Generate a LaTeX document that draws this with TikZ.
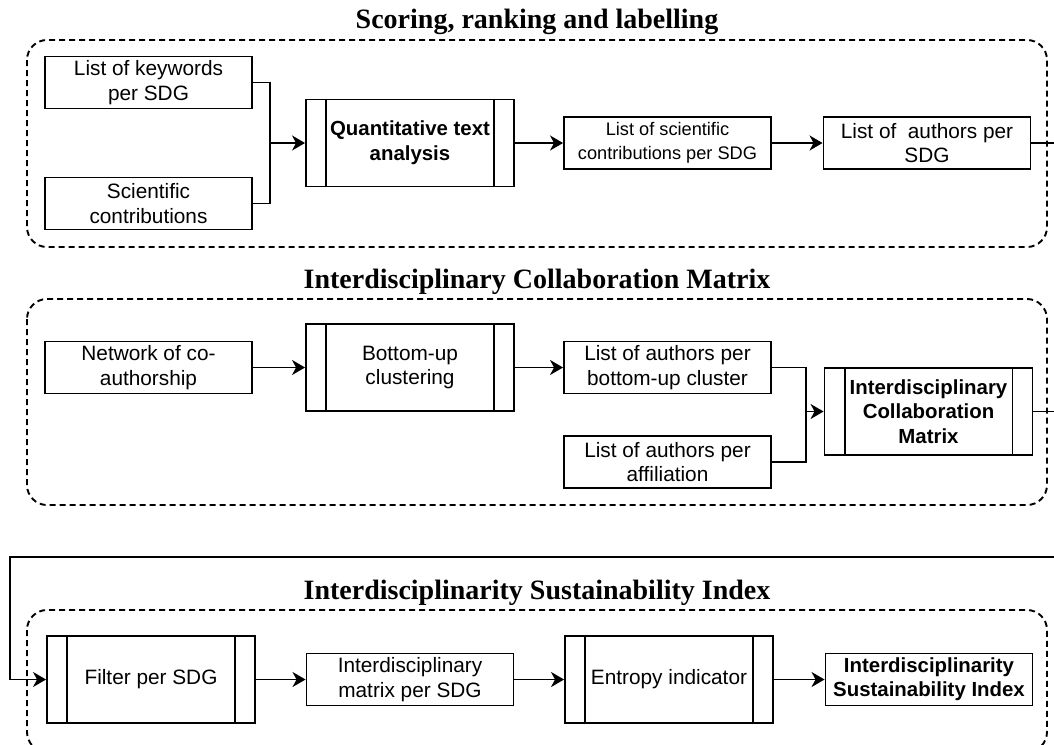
\documentclass[tikz,border=0pt]{standalone}
\usepackage{fontspec}
\setmainfont{Liberation Sans}
\newfontfamily\titlefont{Liberation Serif}
\usepackage{tikz}
\usetikzlibrary{arrows.meta, positioning}

\begin{document}
\begin{tikzpicture}[x=0.5pt, y=-0.5pt, >={Stealth[length=6.5pt,width=7.5pt,inset=2pt]}, line width=0.95pt]
        \tikzstyle{box}=[draw, rectangle, inner sep=0pt, align=center, minimum width=103.5pt, minimum height=26pt, font=\fontsize{10.4}{12.3}\selectfont]
        \tikzstyle{process}=[box, minimum width=104pt, minimum height=43.5pt]
        \tikzstyle{heading}=[font=\titlefont\bfseries\fontsize{14}{16}\selectfont]
        \tikzstyle{frame}=[dash pattern=on 3pt off 2pt, rounded corners=10pt]

        \useasboundingbox (0,0) rectangle (1054,744);

        % --- Scoring, ranking and labelling ---
        \node (title1)[heading] at (537,22) {Scoring, ranking and labelling};
        \draw[frame] (27,40) rectangle (1047,247);

        \node (kwlist)[box] at (148.5,82.5) {List of keywords\\per SDG};
        \node (scicontrib)[box] at (148.5,203.5) {Scientific\\contributions};
        \node (quanttext)[process, font=\bfseries\fontsize{10.2}{12.3}\selectfont] at (410,143) {Quantitative text\\analysis};
        \node (scilist)[box, font=\fontsize{9.1}{11.8}\selectfont] at (667.5,143) {List of scientific\\contributions per SDG};
        \node (authsdg)[box] at (927,143) {List of~ authors per\\SDG};

        \coordinate (joinA) at (270,143);
        \coordinate (outA) at (1060,143);
        \draw (kwlist.east) -| (joinA);
        \draw (scicontrib.east) -| (joinA);
        \draw[->] (joinA) -- (quanttext.west);
        \draw[->] (quanttext) -- (scilist);
        \draw[->] (scilist) -- (authsdg);
        \draw (authsdg.east) -- (outA);

        % --- Interdisciplinary Collaboration Matrix ---
        \node (title2)[heading] at (537,282) {Interdisciplinary Collaboration Matrix};
        \draw[frame] (27,299) rectangle (1047,505);

        \node (network)[box] at (148.5,367.5) {Network of co-\\authorship};
        \node (clustering)[process] at (410,367.5) {Bottom-up\\clustering};
        \node (authcluster)[box] at (667.5,367.5) {List of authors per\\bottom-up cluster};
        \node (authaffil)[box] at (667.5,462) {List of authors per\\affiliation};
        \node (icm)[process, font=\bfseries\fontsize{10.2}{12.2}\selectfont] at (928.5,411.5) {Interdisciplinary\\Collaboration\\Matrix};

        \coordinate (joinB) at (806,411.5);
        \coordinate (outB) at (1060,411.5);
        \draw[->] (network) -- (clustering);
        \draw[->] (clustering) -- (authcluster);
        \draw (authcluster.east) -| (joinB);
        \draw (authaffil.east) -| (joinB);
        \draw[->] (joinB) -- (icm.west);
        \draw (icm.east) -- (outB);

        % --- Interdisciplinarity Sustainability Index ---
        \node (title3)[heading] at (537,593) {Interdisciplinarity Sustainability Index};
        \draw[frame] (27,610) rectangle (1047,752);

        \node (filter)[process] at (151,679.5) {Filter per SDG};
        \node (intermatrix)[box] at (410,679.5) {Interdisciplinary\\matrix per SDG};
        \node (entropy)[process] at (669,679.5) {Entropy indicator};
        \node (isi)[box, font=\bfseries\fontsize{10.2}{12.2}\selectfont] at (929,679.5) {Interdisciplinarity\\Sustainability Index};

        \coordinate (inC) at (1060,557);
        \coordinate (bendC) at (10,557);
        \draw[->] (inC) -- (bendC) |- (filter.west);
        \draw[->] (filter) -- (intermatrix);
        \draw[->] (intermatrix) -- (entropy);
        \draw[->] (entropy) -- (isi);

        % side bars of the process boxes
        \foreach \p in {quanttext, clustering, icm, filter, entropy} {
            \draw ([xshift=10.5pt]\p.north west) -- ([xshift=10.5pt]\p.south west);
            \draw ([xshift=-10.5pt]\p.north east) -- ([xshift=-10.5pt]\p.south east);
        }
    \end{tikzpicture}
\end{document}
